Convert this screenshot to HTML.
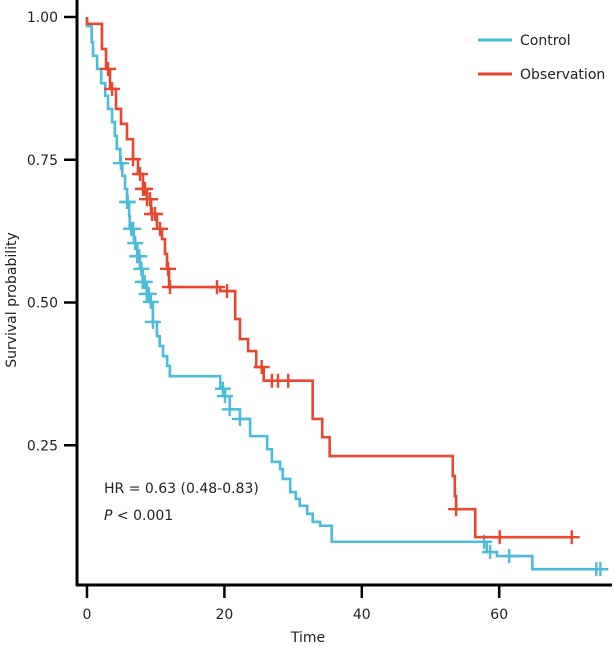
<!DOCTYPE html>
<html><head><meta charset="utf-8"><style>
body{margin:0;background:#fff;}
svg text{font-family:"DejaVu Sans","Liberation Sans",sans-serif;fill:#222;}
</style></head><body>
<svg id="chart" width="615" height="647" viewBox="0 0 615 647" xmlns="http://www.w3.org/2000/svg">
<g id="axes"></g>
<g id="series"></g>
<g>
<line x1="478" y1="40" x2="512" y2="40" stroke="#4bbcd9" stroke-width="3"/>
<text x="520" y="45" font-size="14">Control</text>
<line x1="478" y1="74" x2="512" y2="74" stroke="#e8472e" stroke-width="3"/>
<text x="520" y="79" font-size="14">Observation</text>
</g>
<text x="104" y="493" font-size="14">HR = 0.63 (0.48-0.83)</text>
<text x="104" y="520" font-size="14"><tspan font-style="italic">P</tspan> &lt; 0.001</text>
<text x="308" y="642" font-size="14" text-anchor="middle">Time</text>
<text transform="translate(16,300) rotate(-90)" font-size="14" text-anchor="middle">Survival probability</text>
</svg>
<script>
const xTicks=[0,20,40,60];
const yTicks=[0.25,0.50,0.75,1.00];
const yTickLabels=["0.25","0.50","0.75","1.00"];
const obsTimes=[0,2.17,2.77,3.35,4.22,4.95,5.82,6.70,7.42,8.15,8.73,9.32,10.19,10.92,11.35,11.64,11.94,19.39,21.57,22.26,23.45,24.63,25.72,32.85,34.24,35.32,53.24,53.54,53.73,56.51];
const obsSurv=[0.988,0.944,0.909,0.874,0.839,0.813,0.786,0.751,0.725,0.699,0.681,0.655,0.629,0.611,0.585,0.559,0.527,0.520,0.471,0.436,0.415,0.387,0.363,0.296,0.264,0.231,0.196,0.161,0.138,0.089];
const obsEnd=70.56;
const obsCensor=[3.06,3.65,6.70,7.71,8.15,8.44,8.73,9.17,9.46,9.90,10.63,11.79,12.08,18.92,20.38,25.43,26.91,27.80,29.29,53.73,60.07,70.56];
const ctlTimes=[0,0.68,0.88,1.47,2.07,2.66,3.06,3.65,4.05,4.34,4.84,5.14,5.53,5.83,6.13,6.22,6.82,7.31,7.71,8.10,8.70,9.19,9.59,10.18,10.58,11.07,11.67,12.06,19.39,20.08,20.77,22.26,23.74,26.22,26.91,28.10,28.49,29.58,30.38,30.97,32.06,32.85,33.94,35.62,58.19,59.67,64.82];
const ctlSurv=[0.984,0.956,0.932,0.909,0.884,0.862,0.839,0.816,0.792,0.769,0.744,0.722,0.699,0.676,0.651,0.629,0.604,0.581,0.559,0.536,0.515,0.501,0.466,0.441,0.424,0.406,0.389,0.371,0.349,0.336,0.313,0.296,0.266,0.243,0.221,0.208,0.191,0.168,0.156,0.144,0.130,0.116,0.109,0.081,0.063,0.056,0.033];
const ctlEnd=74.72;
const ctlCensor=[4.94,5.83,5.93,6.42,6.72,7.02,7.31,7.61,7.91,8.10,8.40,8.70,9.00,9.29,9.59,19.78,20.08,20.77,22.26,57.79,58.68,61.46,74.13,74.72];

const NS="http://www.w3.org/2000/svg";
const X=t=>87+t*6.87, Y=s=>588-s*571;
function mk(tag,attrs,parent){const e=document.createElementNS(NS,tag);for(const k in attrs)e.setAttribute(k,attrs[k]);parent.appendChild(e);return e;}
const ax=document.getElementById('axes');
let e=mk('line',{x1:77,y1:0,x2:77,y2:586,stroke:'#000','stroke-width':3},ax);


e=mk('line',{x1:76,y1:585,x2:612,y2:585,stroke:'#000','stroke-width':3},ax);


xTicks.forEach(v=>{
  let t=mk('line',{x1:X(v),y1:585,x2:X(v),y2:598,stroke:'#000','stroke-width':2.5},ax);
  
  
  let l=mk('text',{x:X(v),y:619,'font-size':14,'text-anchor':'middle'},ax);l.textContent=v;
  
  
});
yTicks.forEach((v,i)=>{
  let t=mk('line',{x1:64,y1:Y(v),x2:77,y2:Y(v),stroke:'#000','stroke-width':2.5},ax);
  
  
  let l=mk('text',{x:58,y:Y(v)+5,'font-size':14,'text-anchor':'end'},ax);l.textContent=yTickLabels[i];
  
  
});
const sg=document.getElementById('series');
function survAt(times,surv,t){let s=1;for(let i=0;i<times.length;i++){if(times[i]<=t)s=surv[i];}return s;}
function draw(times,surv,end,cens,color,name){
  let d='M'+X(0)+','+Y(1);
  for(let i=0;i<times.length;i++){d+=' H'+X(times[i])+' V'+Y(surv[i]);}
  d+=' H'+X(end);
  let p=mk('path',{d:d,fill:'none',stroke:color,'stroke-width':2.6},sg);
  
  
  cens.forEach(t=>{
    const cx=X(t),cy=Y(survAt(times,surv,t));
    let c=mk('path',{d:`M${cx-8},${cy} H${cx+8} M${cx},${cy-7} V${cy+7}`,stroke:color,'stroke-width':2.4,fill:'none'},sg);
    
    
  });
}
draw(ctlTimes,ctlSurv,ctlEnd,ctlCensor,'#4bbcd9','control');
draw(obsTimes,obsSurv,obsEnd,obsCensor,'#e8472e','observation');
</script>
</body></html>
